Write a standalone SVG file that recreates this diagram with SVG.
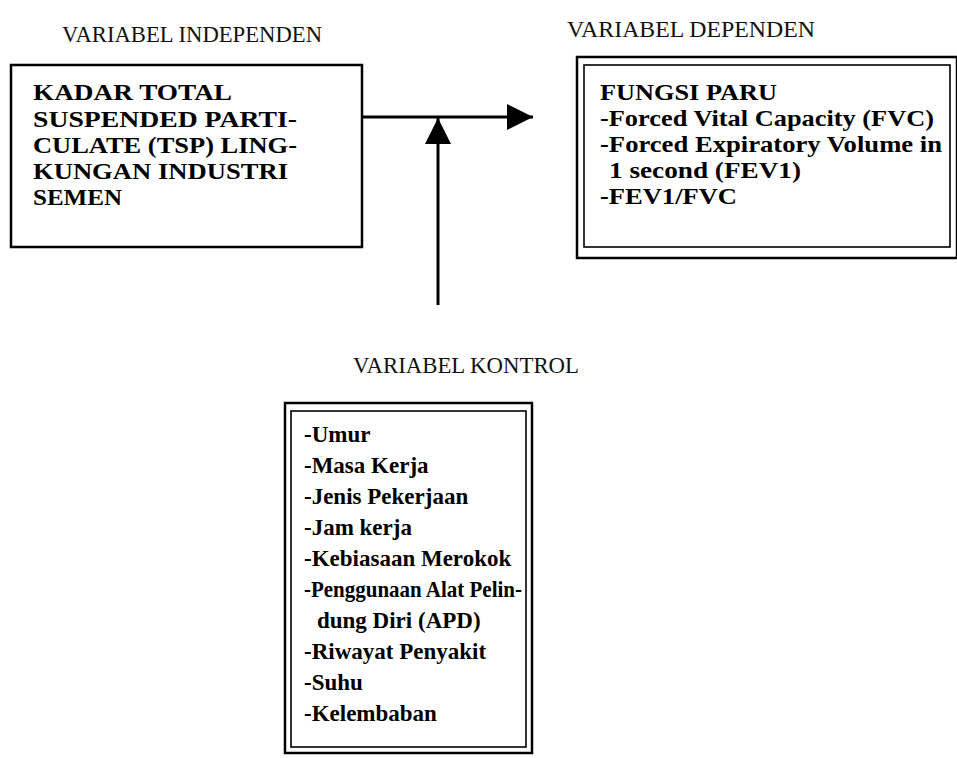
<svg xmlns="http://www.w3.org/2000/svg" width="957" height="758" viewBox="0 0 957 758">
<style>
.hdr{font-family:"Liberation Serif","Times New Roman",serif;font-size:24px;fill:#111}
.bt{font-family:"Liberation Serif","Times New Roman",serif;font-size:24px;font-weight:bold;fill:#000}
.ct{font-family:"Liberation Serif","Times New Roman",serif;font-size:23px;font-weight:bold;fill:#000}
.box{fill:#fff;stroke:#000;stroke-width:2.5}
.inner{fill:none;stroke:#000;stroke-width:1.6}
.conn{stroke:#000;stroke-width:3;fill:none}
</style>
<defs>
<marker id="ah" viewBox="0 0 26 26" refX="26" refY="13" markerWidth="26" markerHeight="26" markerUnits="userSpaceOnUse" orient="auto">
<path d="M0,0 L26,13 L0,26 Z" fill="#000"/>
</marker>
</defs>
<rect width="957" height="758" fill="#fff"/>

<g id="label-independen">
<text class="hdr" x="62" y="42" textLength="260" lengthAdjust="spacingAndGlyphs">VARIABEL INDEPENDEN</text>
</g>
<g id="label-dependen">
<text class="hdr" x="567" y="37" textLength="248" lengthAdjust="spacingAndGlyphs">VARIABEL DEPENDEN</text>
</g>
<g id="label-kontrol">
<text class="hdr" x="353" y="373" textLength="226" lengthAdjust="spacingAndGlyphs">VARIABEL KONTROL</text>
</g>

<g id="node-independen">
<rect class="box" x="11" y="65" width="351" height="182"/>
<text class="bt" x="33" y="100" textLength="199" lengthAdjust="spacingAndGlyphs">KADAR TOTAL</text>
<text class="bt" x="33" y="127" textLength="264" lengthAdjust="spacingAndGlyphs">SUSPENDED PARTI-</text>
<text class="bt" x="33" y="153" textLength="264" lengthAdjust="spacingAndGlyphs">CULATE (TSP) LING-</text>
<text class="bt" x="33" y="179" textLength="255" lengthAdjust="spacingAndGlyphs">KUNGAN INDUSTRI</text>
<text class="bt" x="33" y="205" textLength="89" lengthAdjust="spacingAndGlyphs">SEMEN</text>
</g>

<g id="node-dependen">
<rect class="box" x="577" y="57" width="380" height="201"/>
<rect class="inner" x="584" y="65" width="366" height="182"/>
<text class="bt" x="600" y="100" textLength="177" lengthAdjust="spacingAndGlyphs">FUNGSI PARU</text>
<text class="bt" x="600" y="126" textLength="334" lengthAdjust="spacingAndGlyphs">-Forced Vital Capacity (FVC)</text>
<text class="bt" x="600" y="152" textLength="342" lengthAdjust="spacingAndGlyphs">-Forced Expiratory Volume in</text>
<text class="bt" x="609" y="178" textLength="192" lengthAdjust="spacingAndGlyphs">1 second (FEV1)</text>
<text class="bt" x="600" y="204" textLength="137" lengthAdjust="spacingAndGlyphs">-FEV1/FVC</text>
</g>

<g id="node-kontrol">
<rect class="box" x="285" y="403" width="247" height="350"/>
<rect class="inner" x="291" y="411" width="235" height="336"/>
<text class="ct" x="304" y="442">-Umur</text>
<text class="ct" x="304" y="473">-Masa Kerja</text>
<text class="ct" x="304" y="504">-Jenis Pekerjaan</text>
<text class="ct" x="304" y="535">-Jam kerja</text>
<text class="ct" x="304" y="566">-Kebiasaan Merokok</text>
<text class="ct" x="304" y="597" textLength="218" lengthAdjust="spacingAndGlyphs">-Penggunaan Alat Pelin-</text>
<text class="ct" x="317" y="628">dung Diri (APD)</text>
<text class="ct" x="304" y="659">-Riwayat Penyakit</text>
<text class="ct" x="304" y="690">-Suhu</text>
<text class="ct" x="304" y="721">-Kelembaban</text>
</g>

<g id="connectors">
<line class="conn" x1="362" y1="117" x2="533" y2="117" marker-end="url(#ah)"/>
<line class="conn" x1="438" y1="305" x2="438" y2="118" marker-end="url(#ah)"/>
</g>
</svg>
